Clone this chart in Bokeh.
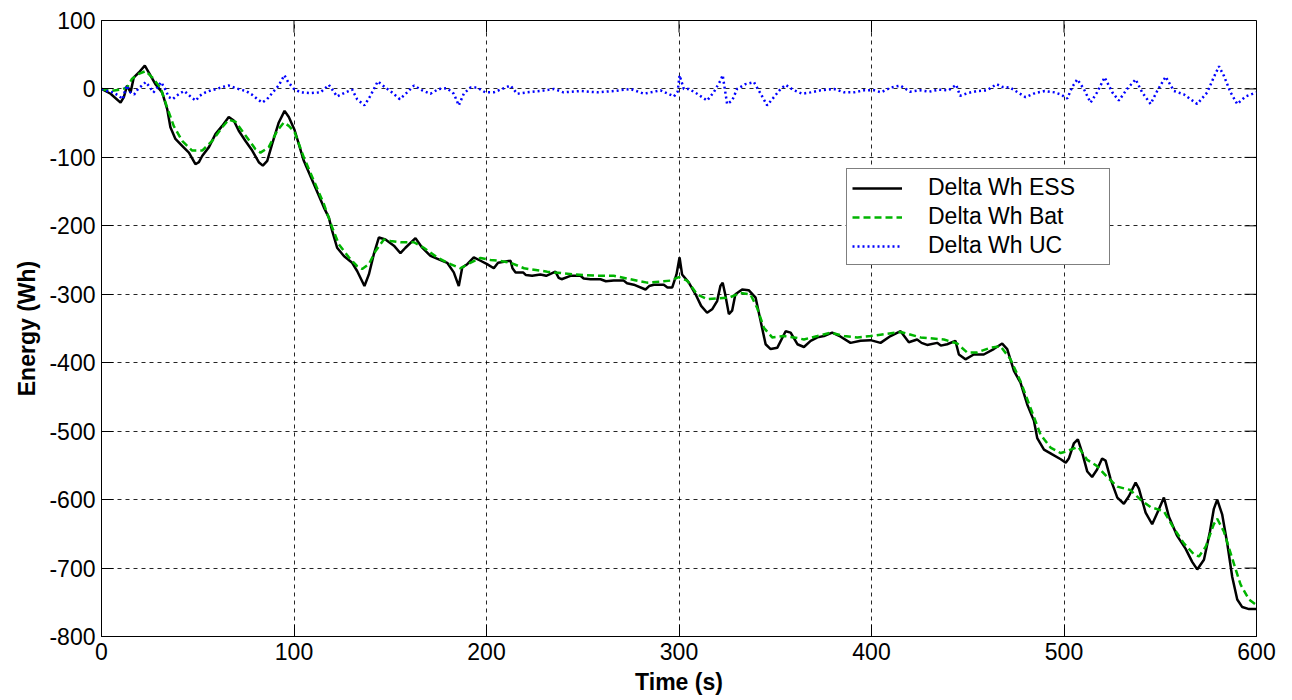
from bokeh.plotting import figure
from bokeh.models import Range1d, FixedTicker, Legend, LegendItem
from bokeh.embed import file_html
from bokeh.resources import INLINE

# Energy exchanged by the storage system over the drive cycle
ess_t = [0, 4.7, 9.9, 11.6, 13.3, 15.1, 16.8, 19.4, 22.5, 24.6, 28, 31.5, 34.1, 35.8, 38.4,
         41.9, 45.4, 48.8, 50.6, 52.3, 55.8, 59.2, 62.7, 66.1, 68.7, 71.3, 74.8, 78.3, 81.7,
         83.8, 86.1, 88.7, 92.1, 95.1, 97.3, 100.3, 105.1, 110.3, 115.5, 118.1, 119.8, 122.4,
         125.9, 130.2, 132.8, 136.6, 138.9, 141.5, 144.1, 147.5, 151.9, 155.3, 157.9, 163.1,
         166.6, 170.9, 175.2, 179.6, 183, 185.6, 187.4, 190, 193.4, 196.9, 200.3, 203.8, 206,
         212.5, 213.5, 215.1, 219, 220.5, 223.7, 228, 231, 235.8, 237.5, 239, 243.6, 248.8,
         250.5, 254, 259.2, 262, 266.1, 271.3, 273, 276.5, 282.6, 284.5, 286.9, 292.1, 294,
         296.5, 298.7, 300.3, 301.6, 305.1, 308.6, 311.5, 314.6, 317.2, 319.8, 321.5, 322.7,
         324, 325.9, 327.6, 329.3, 332.8, 336.2, 339.8, 342.4, 345, 347.6, 351.1, 355.4, 358,
         361.5, 364.9, 368.4, 371.9, 375.3, 379.6, 384, 389.1, 394.3, 399.5, 404.7, 409.9,
         415.1, 419.4, 423.7, 426, 428.9, 434.1, 436, 439.3, 443.6, 445.4, 448.8, 453.1, 458.3,
         463.5, 467.9, 470.5, 474, 477.4, 480.9, 484.4, 486.1, 489.6, 493.9, 498.3, 500.9,
         502.5, 505.1, 507.2, 509.4, 512.1, 514.6, 517.2, 519.8, 521.6, 524.2, 527.7, 531.1,
         533.7, 537.2, 538.9, 542.4, 545.8, 549.3, 551.9, 554.5, 558.8, 563.2, 566.6, 569.2,
         572.7, 575.8, 577.8, 579.6, 582.2, 584.8, 587.4, 590, 592.6, 596.1, 600]
ess_wh = [0, -7, -20, -12, 5, -5, 17, 24, 34, 24, 7, -5, -29, -56, -73,
          -83, -93, -110, -107, -98, -85, -66, -54, -41, -46, -61, -76, -90, -107,
          -112, -105, -80, -49, -32, -41, -60, -105, -139, -173, -188, -207, -232,
          -244, -254, -266, -288, -271, -241, -217, -220, -229, -240, -232, -218,
          -232, -244, -249, -254, -268, -288, -261, -256, -246, -251, -256, -262, -254,
          -251, -262, -268, -268, -272, -273, -271, -273, -267, -276, -278, -273, -273,
          -277, -278, -278, -281, -280, -280, -284, -286, -293, -288, -286, -286, -290,
          -290, -271, -246, -271, -283, -300, -317, -327, -322, -310, -288, -283,
          -300, -329, -324, -300, -293, -294, -305, -339, -373, -380, -378, -354, -356,
          -373, -377, -368, -363, -361, -356, -362, -371, -368, -367, -371, -361,
          -354, -370, -366, -371, -374, -371, -375, -373, -368, -388, -395, -388, -388,
          -380, -372, -380, -412, -429, -461, -485, -510, -527, -534, -541, -546,
          -540, -518, -512, -531, -559, -567, -556, -540, -543, -570, -597, -606,
          -595, -575, -584, -619, -636, -614, -597, -625, -653, -672, -691, -702,
          -688, -647, -614, -600, -622, -664, -713, -746, -757, -760, -760]

bat_t = [0, 4.7, 9.9, 13.3, 15.9, 19.4, 22.9, 26.3, 30.6, 34.1, 37.5, 41.9, 47.1, 52.3,
         57.5, 62.7, 66.1, 69.6, 74.8, 80, 82.6, 86.9, 91.3, 94.7, 97.3, 100.3, 105.1, 110.3,
         115.5, 119.8, 123.3, 128.5, 132.8, 135.4, 138.9, 142.3, 146.7, 150.1, 155.3, 162.3,
         167.4, 174.3, 181.3, 186.5, 191.6, 196.9, 202.1, 206.9, 212.5, 219.5, 231.6, 245.5,
         257.6, 266.1, 274.8, 283.4, 292.1, 295.6, 299.9, 304.2, 309.4, 314.6, 319.8, 325.9,
         331.9, 337.1, 340.6, 344.1, 348.4, 354.5, 359.7, 364.9, 371.9, 378.8, 385.8, 392.6,
         399.5, 404.7, 415.1, 425.5, 437.6, 444.5, 449.7, 454.9, 461.8, 467, 472.2, 477.4,
         482.6, 487.8, 493, 498.3, 500.6, 503.5, 507.4, 512.1, 517.2, 522.4, 527.7, 534.5,
         539.7, 545, 551.9, 557.1, 562.3, 567.5, 570.1, 573.6, 577.8, 579.6, 583.1, 587.4,
         591.7, 596.1, 600]
bat_wh = [0, -3, -1, 2, 15, 22, 26, 17, 2, -27, -54, -76, -90, -90,
          -76, -56, -45, -48, -68, -88, -93, -85, -61, -49, -54, -63, -100, -134,
          -168, -202, -227, -246, -259, -263, -256, -237, -220, -222, -224, -224,
          -232, -246, -256, -262, -254, -247, -250, -251, -254, -262, -267, -271,
          -273, -273, -278, -283, -281, -280, -275, -280, -300, -307, -306, -305,
          -298, -300, -320, -349, -363, -361, -363, -366, -361, -356, -361, -363,
          -361, -359, -355, -363, -366, -372, -385, -385, -378, -376, -395, -427,
          -466, -505, -524, -532, -530, -527, -523, -542, -551, -567, -581, -586,
          -600, -611, -617, -642, -664, -680, -683, -669, -636, -628, -647, -686,
          -724, -746, -754]

uc_t = [0, 3, 6, 9, 11, 13, 15, 17, 19, 21, 23, 25, 27, 29, 31, 33, 35, 37, 39, 41, 43, 45,
        47, 49, 51, 54, 57, 60, 63, 66, 69, 72, 75, 78, 81, 83.5, 86, 89, 92, 95, 97, 100,
        103.4, 108.6, 113.8, 118.1, 122.4, 126.7, 130.2, 132.8, 136.6, 139.7, 143.5, 147.5,
        150.9, 155, 158.8, 162.3, 166.6, 170.9, 175.2, 179.6, 183, 185.6, 188.2, 191.6,
        195.1, 199.4, 203.8, 207.2, 212.5, 215.9, 221.1, 228, 235, 240, 248.8, 257.5, 266.1,
        274.8, 281.8, 290.4, 297.4, 299.3, 300.3, 302.5, 305.1, 309.4, 314.6, 318, 321.5,
        322.7, 325, 327.6, 330.2, 334.5, 338.9, 342.4, 345.8, 349.3, 352.8, 355.4, 359.7,
        364, 368.4, 373.6, 380.5, 385.8, 391, 396.2, 401.4, 405, 410, 415, 420, 425, 430,
        435, 440, 444, 446, 450, 455, 460, 465, 468, 472, 476, 480, 485, 490, 495, 498.3,
        501.7, 504.3, 506.9, 510.3, 513.8, 517.2, 521.1, 525.1, 528.5, 532.8, 537.2, 540.6,
        545, 548.4, 552.8, 557.1, 562.3, 569.2, 574.4, 577.8, 580.5, 583.1, 586.5, 590,
        594.3, 600]
uc_wh = [0, -3, -5, -10, -15, 5, -5, -8, 0, 5, 10, 3, -5, 2, 10, 0, -12, -15, -10, -6, -3, -8,
         -13, -17, -10, -5, -2, 0, 3, 5, 2, -1, -3, -8, -15, -20, -15, -5, 5, 20, 10, 0,
         -5, -6, -5, 6, -11, -5, -1, -15, -24, -10, 11, 2,
         -5, -15, -5, 5, -2, -7, 0, 1, -7, -24, -7, 2,
         2, -5, -5, -1, 5, -7, -5, -3, 0, -5, -3, -5, -3,
         0, -7, -2, -11, -4, 20, 0, 0, -7, -17, -5, 12,
         20, -22, -17, 0, 7, 10, -7, -24, -12, 0, 6, -2,
         -7, -5, -2, 0, -5, -5, -2, -2, -5, 2, 5, -4, -2, -4,
         -1, -2, 6, -10, -6, -3, -2, 7, 3, 2, -5, -12, -6, -3, -5, -8,
         -14, 3, 14, 0, -20, -5, 17, -5, -17, 0, 14, -5,
         -22, -3, 18, -3, -8, -22, -5, 17, 33, 19, -5, -22,
         -11, -5]

x_ticks = [0, 100, 200, 300, 400, 500, 600]
y_ticks = [-800, -700, -600, -500, -400, -300, -200, -100, 0, 100]

FONT = "Liberation Sans"
X0, X1, Y0, Y1 = 0, 600, -800, 100
W, H = 1292, 700
BL, BR, BT, BB = 101, 36, 20, 64
TICK = 12  # inward tick length, px

p = figure(width=W, height=H, output_backend="svg", toolbar_location=None,
           x_range=Range1d(X0, X1), y_range=Range1d(Y0, Y1),
           min_border_left=BL, min_border_right=BR, min_border_top=BT,
           min_border_bottom=BB, background_fill_color="white",
           border_fill_color="white")

p.outline_line_color = "black"
p.outline_line_width = 1

for ax, ticks in ((p.xaxis, x_ticks), (p.yaxis, y_ticks)):
    ax.ticker = FixedTicker(ticks=ticks)
    # plain hyphen-minus labels
    ax.major_label_overrides = {t: str(t) for t in ticks}
    ax.major_tick_in = TICK
    ax.major_tick_out = 0
    ax.minor_tick_in = 0
    ax.minor_tick_out = 0
    ax.axis_line_color = "black"
    ax.major_tick_line_color = "black"
    ax.major_label_text_font = FONT
    ax.major_label_text_font_size = "23px"
    ax.major_label_text_color = "black"
    ax.axis_label_text_font = FONT
    ax.axis_label_text_font_size = "23px"
    ax.axis_label_text_font_style = "bold"
    ax.axis_label_text_color = "black"
    ax.major_label_standoff = 6
    ax.axis_label_standoff = 6

p.xaxis.axis_label = "Time (s)"
p.yaxis.axis_label = "Energy (Wh)"

p.xgrid.ticker = FixedTicker(ticks=x_ticks)
p.ygrid.ticker = FixedTicker(ticks=y_ticks)
for g in (p.xgrid, p.ygrid):
    g.grid_line_color = "black"
    g.grid_line_alpha = 0.85
    g.grid_line_width = 1
    g.grid_line_dash = "4 4"

# inward tick marks along the top and right edges of the box
dy = TICK * (Y1 - Y0) / (H - BT - BB)
dx = TICK * (X1 - X0) / (W - BL - BR)
p.segment(x0=x_ticks, y0=[Y1] * len(x_ticks), x1=x_ticks, y1=[Y1 - dy] * len(x_ticks),
          line_color="black", line_width=1)
p.segment(x0=[X1] * len(y_ticks), y0=y_ticks, x1=[X1 - dx] * len(y_ticks), y1=y_ticks,
          line_color="black", line_width=1)

r_ess = p.line(ess_t, ess_wh, line_color="black", line_width=2.5)
r_bat = p.line(bat_t, bat_wh, line_color="#00b400", line_width=2.5, line_dash="7 4")
r_uc = p.line(uc_t, uc_wh, line_color="#0000ff", line_width=2.5, line_dash="2 3")

legend = Legend(items=[LegendItem(label="Delta Wh ESS", renderers=[r_ess]),
                       LegendItem(label="Delta Wh Bat", renderers=[r_bat]),
                       LegendItem(label="Delta Wh UC", renderers=[r_uc])],
                location=(745, 371))
legend.label_text_font = FONT
legend.label_text_font_size = "23px"
legend.label_text_color = "black"
legend.glyph_width = 50
legend.glyph_height = 24
legend.label_height = 24
legend.label_width = 176
legend.label_standoff = 26
legend.spacing = 2
legend.padding = 5
legend.margin = 0
legend.border_line_color = "black"
legend.border_line_width = 1
legend.background_fill_color = "white"
legend.background_fill_alpha = 1
p.add_layout(legend, "center")

open("out.html", "w").write(file_html(p, INLINE))
